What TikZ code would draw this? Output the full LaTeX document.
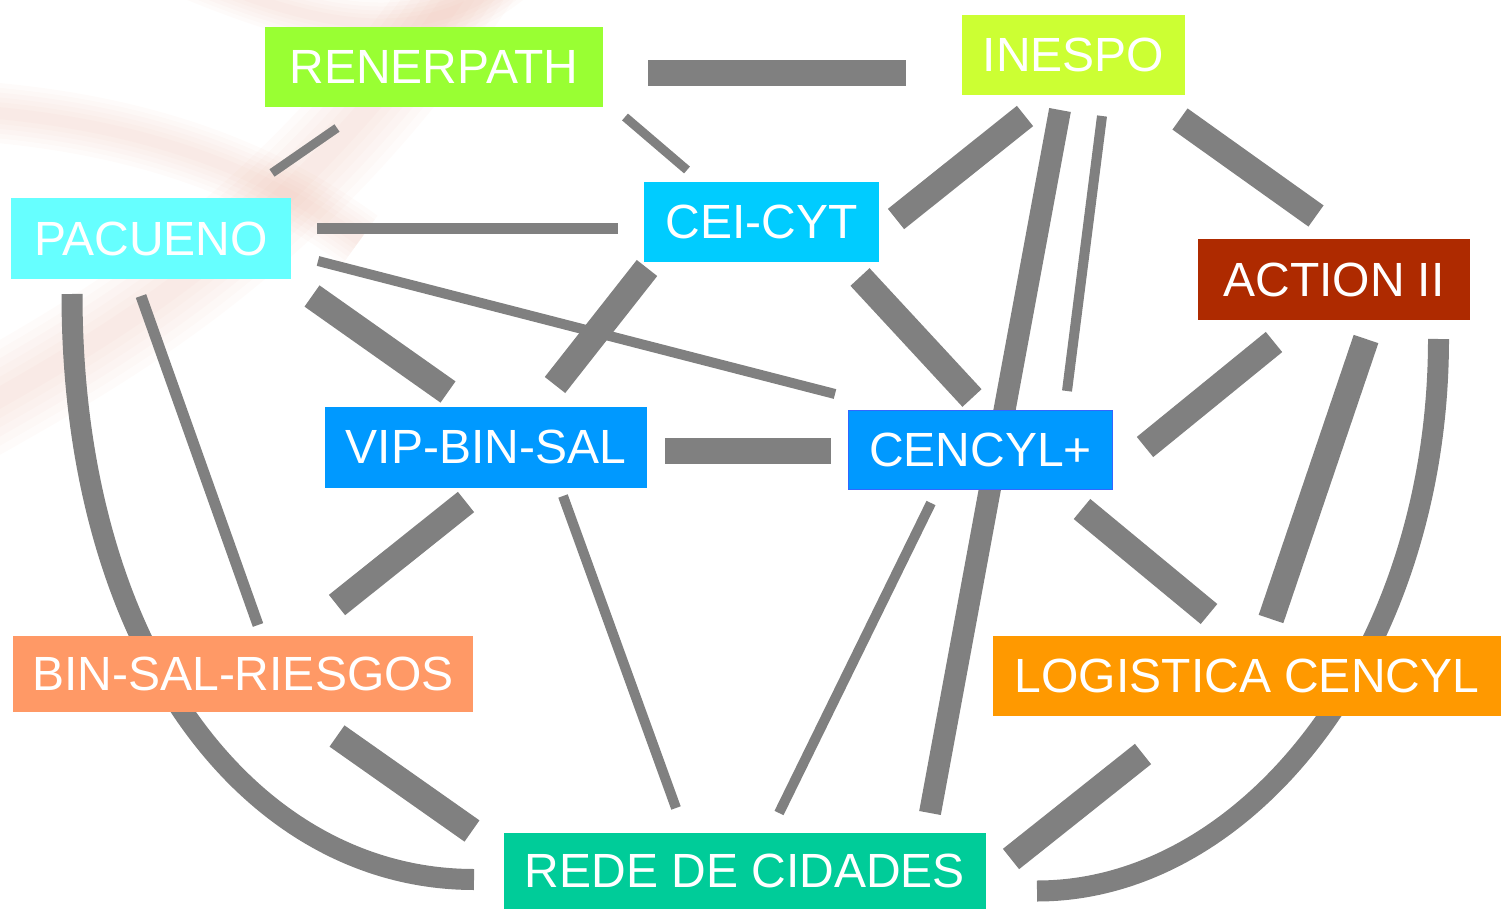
\documentclass[tikz,border=0pt]{standalone}
\usepackage{fontspec}
\setmainfont{Liberation Sans}
\pgfdeclarelayer{back}
\pgfdeclarelayer{links}
\pgfsetlayers{back,links,main}
\definecolor{cgray}{HTML}{808080}
\definecolor{cren}{HTML}{99FF33}
\definecolor{cines}{HTML}{CCFF33}
\definecolor{cpac}{HTML}{66FFFF}
\definecolor{ccei}{HTML}{00CCFF}
\definecolor{cact}{HTML}{AE2A00}
\definecolor{cblue}{HTML}{0099FF}
\definecolor{cbord}{HTML}{3366FF}
\definecolor{cbsr}{HTML}{FF9966}
\definecolor{clog}{HTML}{FF9900}
\definecolor{crede}{HTML}{00CC99}
\definecolor{cpink}{RGB}{225,150,125}
\begin{document}
\begin{tikzpicture}[x=1pt,y=-1pt,
  box/.style={rectangle, inner sep=0pt, text=white, anchor=center,
    font=\fontsize{48}{50}\selectfont},
  conn/.style={draw=cgray, line width=#1},
  thick link/.style={conn=26pt},
  thin link/.style={conn=10pt},
  arc link/.style={conn=21pt},
  swoosh/.style={draw=cpink, line width=#1, opacity=0.035, line cap=butt}]
\useasboundingbox (0,0) rectangle (1501,909);

% nodes
\node[box, fill=cren, minimum width=338pt, minimum height=80pt] (ren) at (434,67) {RENERPATH};
\node[box, fill=cines, minimum width=223pt, minimum height=80pt] (ines) at (1073.5,55) {INESPO};
\node[box, fill=cpac, minimum width=280pt, minimum height=81pt] (pac) at (151,238.5) {PACUENO};
\node[box, fill=ccei, minimum width=235pt, minimum height=80pt] (cei) at (761.5,222) {CEI-CYT};
\node[box, fill=cact, minimum width=272pt, minimum height=81pt] (act) at (1334,279.5) {ACTION II};
\node[box, fill=cblue, minimum width=322pt, minimum height=81pt] (vip) at (486,447) {VIP-BIN-SAL};
\node[box, fill=cblue, draw=cbord, line width=1.5pt, minimum width=264pt, minimum height=79pt] (cen) at (980.5,450) {CENCYL+};
\node[box, fill=cbsr, minimum width=460pt, minimum height=76pt] (bsr) at (243,674) {BIN-SAL-RIESGOS};
\node[box, fill=clog, minimum width=508pt, minimum height=80pt] (log) at (1247,676) {LOGISTICA CENCYL};
\node[box, fill=crede, minimum width=482pt, minimum height=76pt] (rede) at (745,871) {REDE DE CIDADES};

% faint background swooshes
\begin{pgfonlayer}{back}
\foreach \w in {100,84,68,52,36,20}{
  \draw[swoosh=\w pt] (-40,420) .. controls (120,330) and (300,230) .. (480,-40);
  \draw[swoosh=0.6*\w pt] (-40,110) .. controls (120,120) and (250,160) .. (360,240);
  \draw[swoosh=0.5*\w pt] (180,-30) .. controls (300,20) and (420,60) .. (520,-30);
}
\end{pgfonlayer}

% connectors
\begin{pgfonlayer}{links}
\draw[thick link] ([shift={(214,6.5)}]ren.center) -- ([shift={(-167.5,18.5)}]ines.center);
\draw[conn=9pt] ([shift={(121,-65.5)}]pac.center) -- ([shift={(-97,61)}]ren.center);
\draw[conn=9pt] ([shift={(191,50)}]ren.center) -- ([shift={(-74.5,-52)}]cei.center);
\draw[conn=11pt] ([shift={(166,-10)}]pac.center) -- ([shift={(-143.5,6.5)}]cei.center);
\draw[thin link] ([shift={(167,22.5)}]pac.center) -- ([shift={(-145.5,-56)}]cen.center);
\draw[thick link] ([shift={(161,57.5)}]pac.center) -- ([shift={(-38,-55)}]vip.center);
\draw[conn=11pt] ([shift={(-10,57.5)}]pac.center) -- ([shift={(15,-49)}]bsr.center);
\draw[arc link] ([shift={(-79,55.5)}]pac.center) .. controls +(0,356) and +(-224,0) .. ([shift={(-271,8.5)}]rede.center);
\draw[thick link] ([shift={(-48.5,61)}]ines.center) -- ([shift={(134.5,-3)}]cei.center);
\draw[conn=22pt] ([shift={(-13.5,55)}]ines.center) -- ([shift={(185,-58)}]rede.center);
\draw[thin link] ([shift={(28.5,61)}]ines.center) -- ([shift={(86.5,-59)}]cen.center);
\draw[thick link] ([shift={(106.5,64)}]ines.center) -- ([shift={(-18,-63.5)}]act.center);
\draw[thick link] ([shift={(-114.5,46)}]cei.center) -- ([shift={(69,-62)}]vip.center);
\draw[thick link] ([shift={(98.5,55)}]cei.center) -- ([shift={(-8.5,-52)}]cen.center);
\draw[thick link] ([shift={(179,4)}]vip.center) -- ([shift={(-149.5,1)}]cen.center);
\draw[thick link] ([shift={(-20,55)}]vip.center) -- ([shift={(94,-69)}]bsr.center);
\draw[thin link] ([shift={(77,49)}]vip.center) -- ([shift={(-69,-63)}]rede.center);
\draw[thick link] ([shift={(164.5,-3)}]cen.center) -- ([shift={(-60,62.5)}]act.center);
\draw[thin link] ([shift={(-49.5,53)}]cen.center) -- ([shift={(34,-58)}]rede.center);
\draw[thick link] ([shift={(101.5,59)}]cen.center) -- ([shift={(-38,-62)}]log.center);
\draw[thick link] ([shift={(32,59.5)}]act.center) -- ([shift={(24,-57)}]log.center);
\draw[arc link] ([shift={(104.5,59.5)}]act.center) .. controls +(0,311) and +(213,0) .. ([shift={(292,20)}]rede.center);
\draw[thick link] ([shift={(94,62)}]bsr.center) -- ([shift={(-273,-40)}]rede.center);
\draw[thick link] ([shift={(-104,78)}]log.center) -- ([shift={(266,-12)}]rede.center);
\end{pgfonlayer}
\end{tikzpicture}
\end{document}
